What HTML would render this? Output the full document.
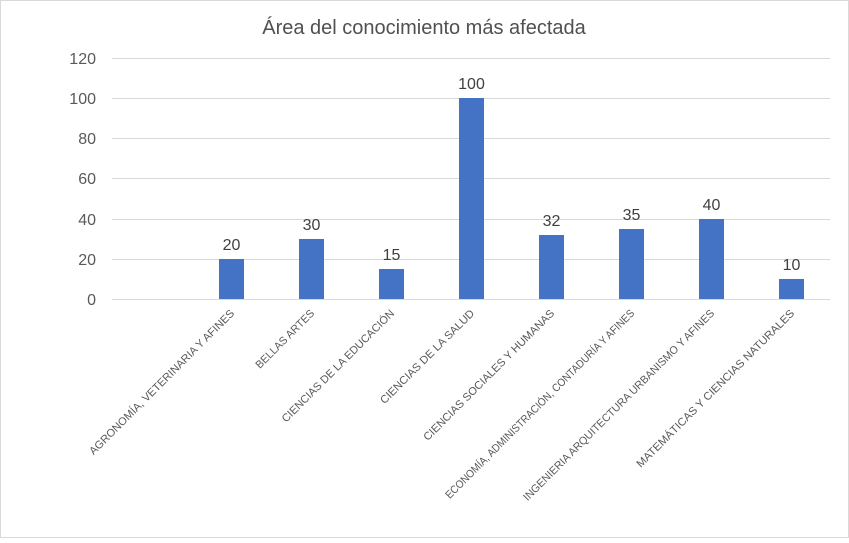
<!DOCTYPE html><html><head><meta charset="utf-8"><style>body{margin:0;background:#fff}</style></head><body>
<svg width="849" height="538" xmlns="http://www.w3.org/2000/svg" font-family="Liberation Sans, sans-serif">
<rect x="0.5" y="0.5" width="848" height="537" fill="#fff" stroke="#d9d9d9"/>
<text x="424" y="34" text-anchor="middle" font-size="20" fill="#505050">Área del conocimiento más afectada</text>
<g stroke="#d9d9d9" stroke-width="1">
<line x1="112" x2="830" y1="58.5" y2="58.5"/><line x1="112" x2="830" y1="98.5" y2="98.5"/><line x1="112" x2="830" y1="138.5" y2="138.5"/><line x1="112" x2="830" y1="178.5" y2="178.5"/><line x1="112" x2="830" y1="219.5" y2="219.5"/><line x1="112" x2="830" y1="259.5" y2="259.5"/><line x1="112" x2="830" y1="299.5" y2="299.5"/>
</g>
<g font-size="16" fill="#595959" text-anchor="end">
<text x="96" y="64">120</text><text x="96" y="104">100</text><text x="96" y="144">80</text><text x="96" y="184">60</text><text x="96" y="225">40</text><text x="96" y="265">20</text><text x="96" y="305">0</text>
</g>
<g fill="#4472c4">
<rect x="219" y="259" width="25" height="40"/>
<rect x="299" y="239" width="25" height="60"/>
<rect x="379" y="269" width="25" height="30"/>
<rect x="459" y="98" width="25" height="201"/>
<rect x="539" y="235" width="25" height="64"/>
<rect x="619" y="229" width="25" height="70"/>
<rect x="699" y="219" width="25" height="80"/>
<rect x="779" y="279" width="25" height="20"/>
</g>
<g font-size="16" fill="#404040" text-anchor="middle">
<text x="231.5" y="250">20</text><text x="311.5" y="230">30</text><text x="391.5" y="260">15</text><text x="471.5" y="89">100</text><text x="551.5" y="226">32</text><text x="631.5" y="220">35</text><text x="711.5" y="210">40</text><text x="791.5" y="270">10</text>
</g>
<g font-size="11" fill="#595959" text-anchor="end">
<text transform="translate(235,314) rotate(-45)" textLength="200" lengthAdjust="spacingAndGlyphs">AGRONOMÍA, VETERINARIA Y AFINES</text>
<text transform="translate(315,314) rotate(-45)" textLength="78" lengthAdjust="spacingAndGlyphs">BELLAS ARTES</text>
<text transform="translate(395,314) rotate(-45)" textLength="154" lengthAdjust="spacingAndGlyphs">CIENCIAS DE LA EDUCACIÓN</text>
<text transform="translate(475,314) rotate(-45)" textLength="128" lengthAdjust="spacingAndGlyphs">CIENCIAS DE LA SALUD</text>
<text transform="translate(555,314) rotate(-45)" textLength="180" lengthAdjust="spacingAndGlyphs">CIENCIAS SOCIALES Y HUMANAS</text>
<text transform="translate(635,314) rotate(-45)" textLength="262" lengthAdjust="spacingAndGlyphs">ECONOMÍA, ADMINISTRACIÓN, CONTADURÍA Y AFINES</text>
<text transform="translate(715,314) rotate(-45)" textLength="265" lengthAdjust="spacingAndGlyphs">INGENIERIA ARQUITECTURA URBANISMO Y AFINES</text>
<text transform="translate(795,314) rotate(-45)" textLength="218" lengthAdjust="spacingAndGlyphs">MATEMÁTICAS Y CIENCIAS NATURALES</text>
</g>
</svg>
</body></html>
